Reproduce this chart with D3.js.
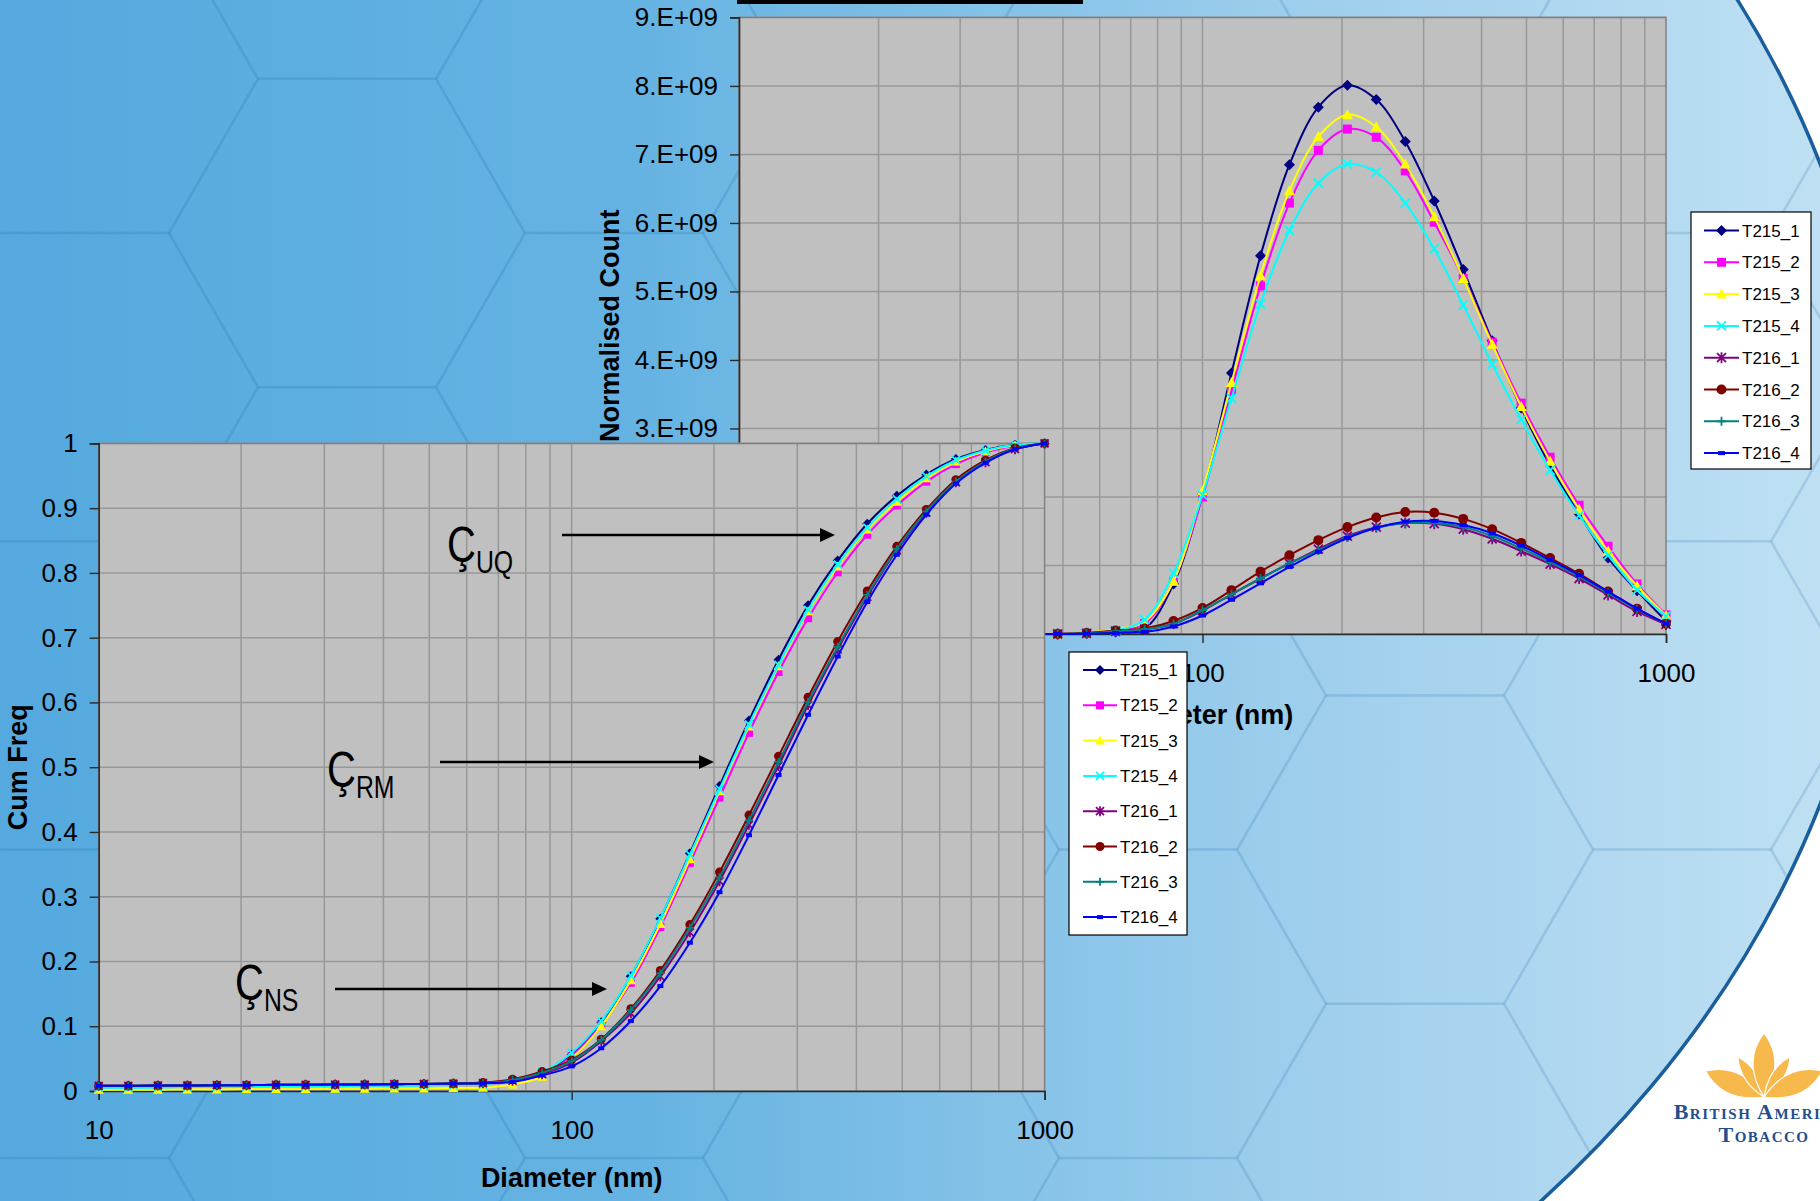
<!DOCTYPE html>
<html>
<head>
<meta charset="utf-8">
<script src="https://cdnjs.cloudflare.com/ajax/libs/d3/7.8.5/d3.min.js"></script>
<style>
  body { margin: 0; overflow: hidden; background: #fff; }
  text { font-family: "Liberation Sans", Arial, sans-serif; }
</style>
</head>
<body>
<div id="chart"></div>
<script>
var width = 1820;
var height = 1201;

// bin centres (nm), 16 per decade
var diameters = [10, 11.55, 13.34, 15.4, 17.78, 20.54, 23.71, 27.38, 31.62, 36.52, 42.17,
  48.7, 56.23, 64.94, 74.99, 86.6, 100, 115.5, 133.4, 154, 177.8, 205.4, 237.1, 273.8,
  316.2, 365.2, 421.7, 487, 562.3, 649.4, 749.9, 866, 1000];

var seriesNames = ["T215_1", "T215_2", "T215_3", "T215_4", "T216_1", "T216_2", "T216_3", "T216_4"];
var seriesColors = ["#000080", "#ff00ff", "#ffff00", "#00ffff", "#800080", "#800000", "#008080", "#0000ff"];
var seriesMarkers = ["diamond", "square", "triangle", "x", "star", "circle", "plus", "dash"];

// Normalised count, in units of 1E+09
var count_T215_1 = [0, 0, 0, 0, 0, 0, 0, 0, 0, 0, 0, 0, 0.01, 0.03, 0.08, 0.73, 2.04, 3.81, 5.52, 6.85, 7.69, 8.01, 7.80, 7.19, 6.32, 5.32, 4.28, 3.30, 2.46, 1.75, 1.11, 0.63, 0.19];
var count_T215_2 = [0, 0, 0, 0, 0, 0, 0, 0, 0, 0, 0, 0, 0.01, 0.04, 0.15, 0.77, 2.00, 3.55, 5.08, 6.29, 7.06, 7.37, 7.25, 6.76, 6.01, 5.19, 4.26, 3.37, 2.58, 1.88, 1.28, 0.73, 0.28];
var count_T215_3 = [0, 0, 0, 0, 0, 0, 0, 0, 0, 0, 0, 0, 0.02, 0.07, 0.18, 0.77, 2.09, 3.67, 5.23, 6.47, 7.26, 7.58, 7.40, 6.86, 6.09, 5.19, 4.23, 3.32, 2.52, 1.82, 1.21, 0.70, 0.27];
var count_T215_4 = [0, 0, 0, 0, 0, 0, 0, 0, 0, 0, 0, 0, 0.02, 0.05, 0.21, 0.89, 2.03, 3.44, 4.82, 5.89, 6.58, 6.86, 6.74, 6.29, 5.62, 4.80, 3.94, 3.13, 2.39, 1.73, 1.15, 0.64, 0.26];
var count_T216_1 = [0, 0, 0, 0, 0, 0, 0, 0, 0, 0, 0, 0, 0.01, 0.04, 0.07, 0.15, 0.34, 0.58, 0.81, 1.03, 1.24, 1.43, 1.56, 1.62, 1.61, 1.53, 1.39, 1.21, 1.02, 0.81, 0.57, 0.33, 0.14];
var count_T216_2 = [0, 0, 0, 0, 0, 0, 0, 0, 0, 0, 0, 0, 0.015, 0.05, 0.08, 0.19, 0.38, 0.64, 0.91, 1.15, 1.37, 1.56, 1.70, 1.78, 1.77, 1.68, 1.53, 1.33, 1.11, 0.88, 0.62, 0.37, 0.15];
var count_T216_3 = [0, 0, 0, 0, 0, 0, 0, 0, 0, 0, 0, 0, 0.01, 0.04, 0.07, 0.15, 0.35, 0.58, 0.81, 1.03, 1.22, 1.41, 1.55, 1.62, 1.62, 1.56, 1.43, 1.25, 1.05, 0.84, 0.60, 0.36, 0.15];
var count_T216_4 = [0, 0, 0, 0, 0, 0, 0, 0, 0, 0, 0, 0, 0.005, 0.015, 0.03, 0.11, 0.27, 0.50, 0.74, 0.98, 1.20, 1.40, 1.55, 1.64, 1.65, 1.59, 1.47, 1.29, 1.08, 0.86, 0.62, 0.37, 0.15];

// Cumulative frequency
var cum_T215_1 = [0.007, 0.007, 0.0075, 0.008, 0.008, 0.0085, 0.009, 0.009, 0.0095, 0.01, 0.01, 0.0105, 0.011, 0.012, 0.017, 0.027, 0.056, 0.106, 0.177, 0.266, 0.367, 0.471, 0.572, 0.666, 0.750, 0.819, 0.876, 0.919, 0.952, 0.976, 0.990, 0.998, 1.0];
var cum_T215_2 = [0.006, 0.006, 0.0065, 0.007, 0.007, 0.0075, 0.008, 0.008, 0.0085, 0.009, 0.009, 0.0095, 0.010, 0.011, 0.015, 0.025, 0.054, 0.102, 0.167, 0.253, 0.352, 0.453, 0.553, 0.647, 0.730, 0.801, 0.859, 0.904, 0.941, 0.968, 0.986, 0.996, 1.0];
var cum_T215_3 = [0.002, 0.002, 0.002, 0.0025, 0.0025, 0.003, 0.003, 0.003, 0.0035, 0.0035, 0.004, 0.004, 0.0045, 0.005, 0.010, 0.022, 0.051, 0.100, 0.171, 0.258, 0.358, 0.463, 0.563, 0.656, 0.741, 0.810, 0.867, 0.910, 0.946, 0.972, 0.988, 0.997, 1.0];
var cum_T215_4 = [0.005, 0.005, 0.0055, 0.006, 0.006, 0.0065, 0.007, 0.007, 0.0075, 0.008, 0.008, 0.0085, 0.009, 0.010, 0.017, 0.029, 0.059, 0.108, 0.178, 0.267, 0.365, 0.466, 0.566, 0.658, 0.743, 0.813, 0.870, 0.914, 0.949, 0.974, 0.989, 0.998, 1.0];
var cum_T216_1 = [0.008, 0.008, 0.0085, 0.0085, 0.009, 0.009, 0.0095, 0.0095, 0.010, 0.010, 0.0105, 0.011, 0.0115, 0.012, 0.016, 0.026, 0.044, 0.077, 0.120, 0.177, 0.245, 0.324, 0.411, 0.502, 0.596, 0.682, 0.763, 0.835, 0.893, 0.940, 0.971, 0.991, 1.0];
var cum_T216_2 = [0.008, 0.008, 0.0085, 0.0085, 0.009, 0.009, 0.0095, 0.0095, 0.010, 0.010, 0.0105, 0.011, 0.0115, 0.013, 0.018, 0.030, 0.048, 0.080, 0.127, 0.186, 0.257, 0.338, 0.426, 0.517, 0.608, 0.694, 0.772, 0.841, 0.898, 0.944, 0.974, 0.993, 1.0];
var cum_T216_3 = [0.008, 0.008, 0.0085, 0.0085, 0.009, 0.009, 0.0095, 0.0095, 0.010, 0.010, 0.0105, 0.011, 0.0115, 0.012, 0.017, 0.028, 0.046, 0.079, 0.125, 0.182, 0.252, 0.330, 0.418, 0.508, 0.601, 0.686, 0.766, 0.837, 0.895, 0.941, 0.972, 0.992, 1.0];
var cum_T216_4 = [0.008, 0.008, 0.0085, 0.0085, 0.009, 0.009, 0.0095, 0.0095, 0.010, 0.010, 0.0105, 0.011, 0.0115, 0.012, 0.014, 0.024, 0.038, 0.066, 0.108, 0.162, 0.229, 0.307, 0.395, 0.488, 0.581, 0.671, 0.755, 0.828, 0.890, 0.938, 0.970, 0.991, 1.0];

var countSeries = [count_T215_1, count_T215_2, count_T215_3, count_T215_4, count_T216_1, count_T216_2, count_T216_3, count_T216_4];
var cumSeries = [cum_T215_1, cum_T215_2, cum_T215_3, cum_T215_4, cum_T216_1, cum_T216_2, cum_T216_3, cum_T216_4];

var countTicks = [0, 1, 2, 3, 4, 5, 6, 7, 8, 9];
var cumTicks = [0, 0.1, 0.2, 0.3, 0.4, 0.5, 0.6, 0.7, 0.8, 0.9, 1];
var diamTicks = [10, 100, 1000];
var diamGrid = [20, 30, 40, 50, 60, 70, 80, 90, 100, 200, 300, 400, 500, 600, 700, 800, 900];

// annotations on the cumulative plot
var annotations = [
  { label: "UQ", x: 447, y: 562, ax0: 562, ax1: 835, ay: 535 },
  { label: "RM", x: 327, y: 787, ax0: 440, ax1: 714, ay: 762 },
  { label: "NS", x: 235, y: 1000, ax0: 335, ax1: 607, ay: 989 }
];

var svg = d3
  .select("#chart")
  .append("svg")
  .attr("width", width)
  .attr("height", height);

var defs = svg.append("defs");
var grad = defs.append("linearGradient").attr("id", "bg").attr("x1", 0).attr("y1", 0).attr("x2", 1).attr("y2", 0);
grad.append("stop").attr("offset", "0").attr("stop-color", "#55a9de");
grad.append("stop").attr("offset", "0.35").attr("stop-color", "#65b3e2");
grad.append("stop").attr("offset", "0.7").attr("stop-color", "#9ccdec");
grad.append("stop").attr("offset", "1").attr("stop-color", "#bfe0f3");

// big ellipse, white outside on the right
var ell = { cx: 474, cy: 484, rx: 1407, ry: 1100 };
defs.append("clipPath").attr("id", "ellClip")
  .append("ellipse").attr("cx", ell.cx).attr("cy", ell.cy).attr("rx", ell.rx).attr("ry", ell.ry);

svg.append("rect").attr("width", width).attr("height", height).attr("fill", "#ffffff");
var bgLayer = svg.append("g").attr("clip-path", "url(#ellClip)");
bgLayer.append("rect").attr("width", width).attr("height", height).attr("fill", "url(#bg)");

// honeycomb
var R = 178;
var hexPts = d3.range(6).map(function (k) {
  var a = (Math.PI / 3) * k;
  return [R * Math.cos(a), R * Math.sin(a)];
});
for (var c = -2; c < 9; c++) {
  for (var r = -2; r < 6; r++) {
    var hx = 347 + c * 1.5 * R;
    var hy = 233 + r * Math.sqrt(3) * R + (Math.abs(c) % 2 === 1 ? Math.sqrt(3) * R / 2 : 0);
    bgLayer.append("path")
      .attr("d", "M" + hexPts.map(function (p) { return (hx + p[0]) + "," + (hy + p[1]); }).join("L") + "Z")
      .attr("fill", "none")
      .attr("stroke", "rgba(25,95,165,0.09)")
      .attr("stroke-width", 2.5);
  }
}

svg.append("ellipse")
  .attr("cx", ell.cx).attr("cy", ell.cy).attr("rx", ell.rx).attr("ry", ell.ry)
  .attr("fill", "none").attr("stroke", "#1a5e9c").attr("stroke-width", 3.5);

// logo
var logo = svg.append("g").attr("transform", "translate(1764,1097)");
function leaf(len, w) {
  return "M0,0 Q" + w + "," + (-len * 0.55) + " 0," + (-len) + " Q" + (-w) + "," + (-len * 0.55) + " 0,0Z";
}
[-66, -33, 0, 33, 66].forEach(function (ang, k) {
  var big = k === 2 || k === 0 || k === 4;
  logo.append("path")
    .attr("d", leaf(big ? 64 : 48, big ? 22 : 12))
    .attr("transform", "rotate(" + ang + ")")
    .attr("fill", "#f8b94c")
    .attr("stroke", "#ffffff")
    .attr("stroke-width", 1.2);
});
svg.append("text").attr("x", 1766).attr("y", 1119).attr("text-anchor", "middle")
  .style("font-family", "'Liberation Serif', 'DejaVu Serif', serif")
  .style("font-weight", "bold").style("font-variant", "small-caps")
  .style("font-size", "22px").style("letter-spacing", "1.5px")
  .attr("fill", "#1f4f8e").text("British American");
svg.append("text").attr("x", 1764).attr("y", 1142).attr("text-anchor", "middle")
  .style("font-family", "'Liberation Serif', 'DejaVu Serif', serif")
  .style("font-weight", "bold").style("font-variant", "small-caps")
  .style("font-size", "22px").style("letter-spacing", "1.5px")
  .attr("fill", "#1f4f8e").text("Tobacco");

svg.append("rect").attr("x", 737).attr("y", 0).attr("width", 346).attr("height", 4).attr("fill", "#000");

function addMarker(g, type, color, x, y, s) {
  var h = s / 2;
  if (type === "diamond") {
    g.append("path").attr("d", "M" + x + "," + (y - h - 1) + "L" + (x + h + 1) + "," + y + "L" + x + "," + (y + h + 1) + "L" + (x - h - 1) + "," + y + "Z").attr("fill", color);
  } else if (type === "square") {
    g.append("rect").attr("x", x - h).attr("y", y - h).attr("width", s).attr("height", s).attr("fill", color);
  } else if (type === "triangle") {
    g.append("path").attr("d", "M" + x + "," + (y - h - 1) + "L" + (x + h + 1) + "," + (y + h) + "L" + (x - h - 1) + "," + (y + h) + "Z").attr("fill", color);
  } else if (type === "x") {
    g.append("path").attr("d", "M" + (x - h) + "," + (y - h) + "L" + (x + h) + "," + (y + h) + "M" + (x + h) + "," + (y - h) + "L" + (x - h) + "," + (y + h))
      .attr("stroke", color).attr("stroke-width", 1.8).attr("fill", "none");
  } else if (type === "star") {
    g.append("path").attr("d", "M" + (x - h) + "," + (y - h) + "L" + (x + h) + "," + (y + h) + "M" + (x + h) + "," + (y - h) + "L" + (x - h) + "," + (y + h) + "M" + x + "," + (y - h - 1) + "L" + x + "," + (y + h + 1))
      .attr("stroke", color).attr("stroke-width", 1.8).attr("fill", "none");
  } else if (type === "circle") {
    g.append("circle").attr("cx", x).attr("cy", y).attr("r", h + 0.5).attr("fill", color);
  } else if (type === "plus") {
    g.append("path").attr("d", "M" + (x - h) + "," + y + "L" + (x + h) + "," + y + "M" + x + "," + (y - h) + "L" + x + "," + (y + h))
      .attr("stroke", color).attr("stroke-width", 1.8).attr("fill", "none");
  } else if (type === "dash") {
    g.append("rect").attr("x", x - h + 1).attr("y", y - 2).attr("width", s - 2).attr("height", 4).attr("fill", color);
  }
}

function drawPanel(cfg) {
  var g = svg.append("g");
  var x = d3.scaleLog().domain([10, 1000]).range([cfg.left, cfg.right]);
  var y = d3.scaleLinear().domain(cfg.yDomain).range([cfg.bottom, cfg.top]);

  g.append("rect")
    .attr("x", cfg.left).attr("y", cfg.top)
    .attr("width", cfg.right - cfg.left).attr("height", cfg.bottom - cfg.top)
    .attr("fill", "#c0c0c0");

  g.selectAll(".gx").data(diamGrid).enter().append("line")
    .attr("x1", function (d) { return x(d); }).attr("x2", function (d) { return x(d); })
    .attr("y1", cfg.top).attr("y2", cfg.bottom)
    .attr("stroke", "#989898").attr("stroke-width", 1.5);
  g.selectAll(".gy").data(cfg.yTicks.slice(1)).enter().append("line")
    .attr("x1", cfg.left).attr("x2", cfg.right)
    .attr("y1", function (d) { return y(d); }).attr("y2", function (d) { return y(d); })
    .attr("stroke", "#989898").attr("stroke-width", 1.5);

  g.append("rect")
    .attr("x", cfg.left).attr("y", cfg.top)
    .attr("width", cfg.right - cfg.left).attr("height", cfg.bottom - cfg.top)
    .attr("fill", "none").attr("stroke", "#808080").attr("stroke-width", 1.5);

  var yAxis = g.append("g")
    .attr("transform", "translate(" + cfg.left + ",0)")
    .call(d3.axisLeft(y).tickValues(cfg.yTicks).tickSize(9).tickPadding(12).tickFormat(cfg.yFormat));
  var xAxis = g.append("g")
    .attr("transform", "translate(0," + cfg.bottom + ")")
    .call(d3.axisBottom(x).tickValues(diamTicks).tickSize(9).tickPadding(21).tickFormat(d3.format("d")));
  [yAxis, xAxis].forEach(function (a) {
    a.select(".domain").attr("stroke", "#2a2a2a").attr("stroke-width", 1.6);
    a.selectAll(".tick line").attr("stroke", "#2a2a2a").attr("stroke-width", 1.4);
    a.selectAll("text").style("font-size", "26px").attr("fill", "#000")
      .style("font-family", "'Liberation Sans', Arial, sans-serif");
  });

  var line = d3.line()
    .x(function (d, i) { return x(diameters[i]); })
    .y(function (d) { return y(d); })
    .curve(d3.curveCatmullRom.alpha(0.5));

  cfg.series.forEach(function (vals, k) {
    var sg = g.append("g");
    sg.append("path").attr("d", line(vals))
      .attr("fill", "none").attr("stroke", seriesColors[k]).attr("stroke-width", 2);
    vals.forEach(function (v, i) {
      addMarker(sg, seriesMarkers[k], seriesColors[k], x(diameters[i]), y(v), cfg.markerSize);
    });
  });

  // axis titles
  g.append("text")
    .attr("x", (cfg.left + cfg.right) / 2).attr("y", cfg.xTitleY)
    .attr("text-anchor", "middle")
    .style("font-size", "27px").style("font-weight", "bold").attr("fill", "#000")
    .text("Diameter (nm)");
  g.append("text")
    .attr("transform", "translate(" + cfg.yTitleX + "," + (cfg.top + cfg.bottom) / 2 + ") rotate(-90)")
    .attr("text-anchor", "middle")
    .style("font-size", "27px").style("font-weight", "bold").attr("fill", "#000")
    .text(cfg.yTitle);

  // legend
  var lg = g.append("g");
  lg.append("rect")
    .attr("x", cfg.legend.x).attr("y", cfg.legend.y)
    .attr("width", cfg.legend.w).attr("height", cfg.legend.h)
    .attr("fill", "#fff").attr("stroke", "#000").attr("stroke-width", 1.2);
  seriesNames.forEach(function (name, k) {
    var ly = cfg.legend.y0 + k * cfg.legend.step;
    lg.append("line")
      .attr("x1", cfg.legend.lx0).attr("x2", cfg.legend.lx1)
      .attr("y1", ly).attr("y2", ly)
      .attr("stroke", seriesColors[k]).attr("stroke-width", 2);
    addMarker(lg, seriesMarkers[k], seriesColors[k], (cfg.legend.lx0 + cfg.legend.lx1) / 2, ly, cfg.markerSize);
    lg.append("text")
      .attr("x", cfg.legend.tx).attr("y", ly + 6)
      .style("font-size", "17px").attr("fill", "#000")
      .text(name);
  });
  return { g: g, x: x, y: y };
}

// back chart: normalised count
drawPanel({
  left: 739, right: 1666, top: 17.4, bottom: 634,
  yDomain: [0, 9], yTicks: countTicks,
  yFormat: function (d) { return d === 0 ? "0.E+00" : d + ".E+09"; },
  series: countSeries, markerSize: 9,
  xTitleY: 724, yTitleX: 619, yTitle: "Normalised Count",
  legend: { x: 1691, y: 212, w: 120, h: 257, y0: 230.5, step: 31.8, lx0: 1704, lx1: 1739, tx: 1742 }
});

// front chart: cumulative frequency
var front = drawPanel({
  left: 98.7, right: 1044.6, top: 443.4, bottom: 1091,
  yDomain: [0, 1], yTicks: cumTicks,
  yFormat: function (d) { return String(+d.toFixed(1)); },
  series: cumSeries, markerSize: 8,
  xTitleY: 1187, yTitleX: 27, yTitle: "Cum Freq",
  legend: { x: 1069, y: 652, w: 118, h: 283, y0: 670, step: 35.3, lx0: 1083, lx1: 1117, tx: 1120 }
});

// annotation labels and arrows
annotations.forEach(function (a) {
  var t = front.g.append("text")
    .attr("transform", "translate(" + a.x + "," + a.y + ") scale(0.8,1)")
    .attr("fill", "#000");
  t.append("tspan").attr("x", 0).style("font-size", "50px").text("\u00c7");
  t.append("tspan").attr("dy", 11).style("font-size", "31px").text(a.label);
  front.g.append("line")
    .attr("x1", a.ax0).attr("x2", a.ax1 - 12)
    .attr("y1", a.ay).attr("y2", a.ay)
    .attr("stroke", "#000").attr("stroke-width", 2.5);
  front.g.append("path")
    .attr("d", "M" + a.ax1 + "," + a.ay + "L" + (a.ax1 - 15) + "," + (a.ay - 7) + "L" + (a.ax1 - 15) + "," + (a.ay + 7) + "Z")
    .attr("fill", "#000");
});
</script>
</body>
</html>
